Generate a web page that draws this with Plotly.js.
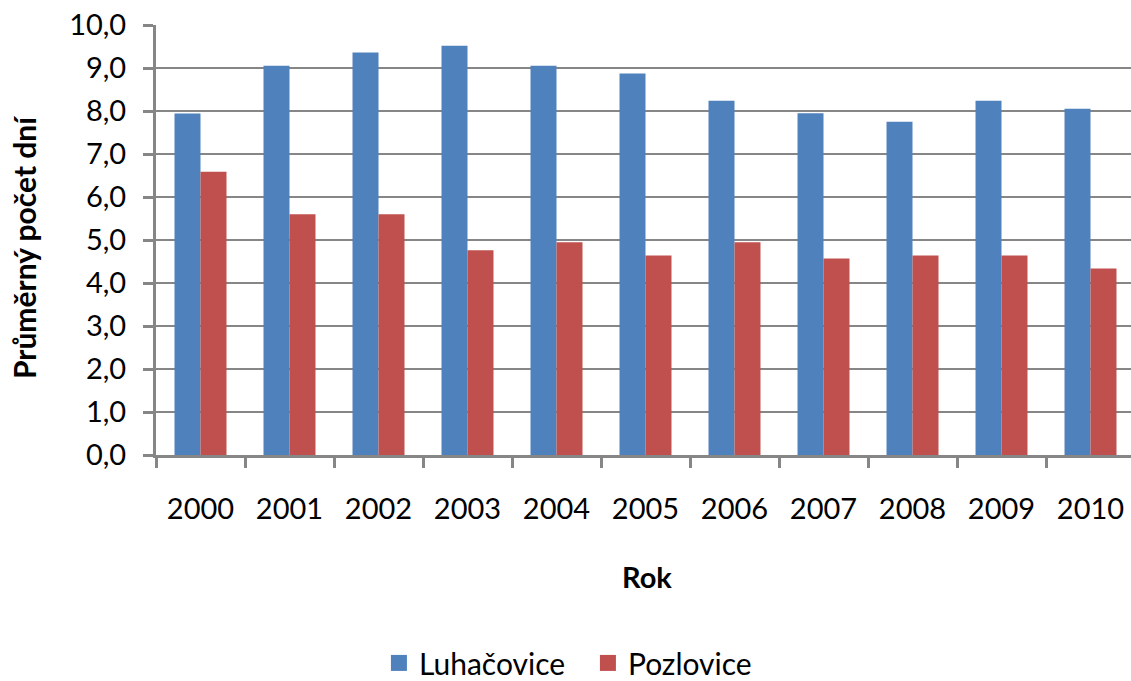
<!DOCTYPE html>
<html>
<head>
<meta charset="utf-8">
<script src="https://cdn.plot.ly/plotly-3.0.1.min.js"></script>
<style>html,body{margin:0;padding:0;background:#fff;}#chart{width:1131px;height:681px;}</style>
</head>
<body>
<div id="chart"></div>
<script>
const years = ["2000","2001","2002","2003","2004","2005","2006","2007","2008","2009","2010"];
const luhacovice = [7.94, 9.05, 9.36, 9.52, 9.05, 8.87, 8.24, 7.95, 7.75, 8.24, 8.05];
const pozlovice = [6.59, 5.60, 5.60, 4.76, 4.95, 4.64, 4.95, 4.57, 4.64, 4.64, 4.34];
const seriesNames = ["Luhačovice", "Pozlovice"];
const colors = ["#4F81BD", "#C0504D"];
const yTitle = "Průměrný počet dní";
const xTitle = "Rok";

const FONT = "Lato, 'Open Sans', sans-serif";
const grid = "#868686";

const traces = [
  {type:"bar", x:years, y:luhacovice, name:seriesNames[0], marker:{color:colors[0]}, showlegend:false, hoverinfo:"x+y"},
  {type:"bar", x:years, y:pozlovice, name:seriesNames[1], marker:{color:colors[1]}, showlegend:false, hoverinfo:"x+y"},
  {type:"scatter", mode:"markers", x:[null], y:[null], name:seriesNames[0], marker:{symbol:"square", size:18, color:colors[0]}, showlegend:true},
  {type:"scatter", mode:"markers", x:[null], y:[null], name:seriesNames[1], marker:{symbol:"square", size:18, color:colors[1]}, showlegend:true}
];

const layout = {
  width:1131, height:681,
  margin:{l:156, r:0, t:25, b:226, pad:0, autoexpand:false},
  paper_bgcolor:"#fff", plot_bgcolor:"#fff",
  separators:", ",
  font:{family:FONT, size:29, color:"#000"},
  barmode:"group", bargap:0.416, bargroupgap:0,
  xaxis:{
    type:"category", range:[-0.5, 10.455], fixedrange:true, automargin:false,
    showgrid:false, showline:true, linecolor:grid, linewidth:3,
    ticks:"outside", tickson:"boundaries", ticklen:10, tickwidth:3, tickcolor:grid,
    ticklabelstandoff:26,
    tickfont:{family:FONT, size:29, color:"#000"},
    zeroline:false
  },
  yaxis:{
    range:[0,10], dtick:1, tickformat:".1f", fixedrange:true, automargin:false,
    showgrid:true, gridcolor:grid, gridwidth:2.5,
    showline:true, linecolor:grid, linewidth:3,
    ticks:"outside", ticklen:10, tickwidth:3, tickcolor:grid,
    ticklabelstandoff:11,
    tickfont:{family:FONT, size:29, color:"#000"},
    zeroline:false
  },
  annotations:[
    {text:xTitle, xref:"paper", yref:"paper", x:0.5036, y:-0.2837, xanchor:"center", yanchor:"middle",
     showarrow:false, font:{family:FONT, size:29, color:"#000", weight:"bold"}},
    {text:yTitle, xref:"paper", yref:"paper", x:-0.1353, y:0.4837, xanchor:"center", yanchor:"middle",
     textangle:-90, showarrow:false, font:{family:FONT, size:30, color:"#000", weight:"bold"}}
  ],
  legend:{
    orientation:"h", x:0.443, xanchor:"center", y:-0.544, yanchor:"bottom",
    font:{family:FONT, size:30, color:"#000"},
    bgcolor:"rgba(0,0,0,0)", itemsizing:"trace", entrywidth:164, entrywidthmode:"pixels"
  },
  showlegend:true
};

Plotly.newPlot("chart", traces, layout, {displayModeBar:false, staticPlot:true});
</script>
</body>
</html>
